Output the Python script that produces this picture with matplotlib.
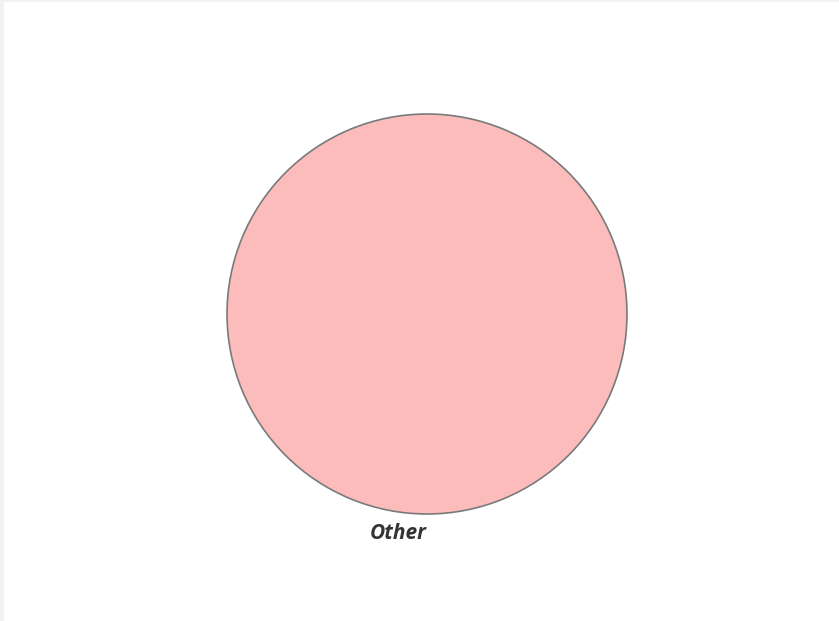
import matplotlib.pyplot as plt

labels = ["Other"]
sizes = [100]
colors = ["#fcbcbc"]

fig = plt.figure(figsize=(8.39, 6.21), dpi=100, facecolor="#f2f2f2")
ax = fig.add_axes([4 / 839, 0, 835 / 839, 619 / 621])
ax.set_facecolor("white")

ax.pie(sizes, labels=labels, colors=colors, startangle=90, counterclock=False,
       wedgeprops=dict(edgecolor="#7a7a7a", linewidth=1.2),
       textprops=dict(family=["Open Sans", "DejaVu Sans"], fontsize=15,
                      fontstyle="italic", fontweight="bold", color="#333333"),
       frame=True)

# one pie unit = 200 px, centre at (427, 314) in image pixels
ax.set_xlim(-423 / 200, 412 / 200)
ax.set_ylim(-307 / 200, 312 / 200)
ax.set_xticks([])
ax.set_yticks([])
for s in ax.spines.values():
    s.set_visible(False)

fig.savefig("out.png", dpi=100, facecolor=fig.get_facecolor())
